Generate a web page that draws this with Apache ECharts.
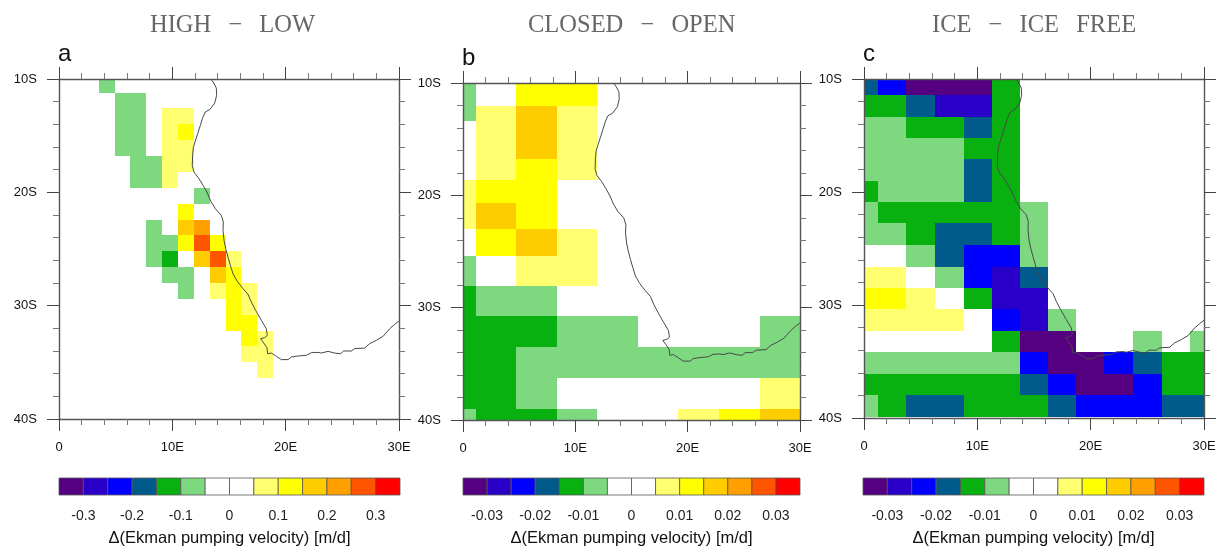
<!DOCTYPE html>
<html>
<head>
<meta charset="utf-8">
<style>html,body{margin:0;padding:0;background:#fff}#c{width:1223px;height:548px}</style>
<script src="https://cdn.jsdelivr.net/npm/echarts@6/dist/echarts.min.js"></script>
</head>
<body>
<div id="c"></div>
<script>
// Colour classes shared by all three colour bars
const classColors = ['#550080','#2a00c8','#0000ff','#005a8c','#08b010','#7dd880','#ffffff','#ffffff','#ffff70','#ffff00','#ffcc00','#ffa000','#ff5500','#ff0000'];
const classEdgesA = [-0.3,-0.25,-0.2,-0.15,-0.1,-0.05,0,0.05,0.1,0.15,0.2,0.25,0.3];
const classEdgesB = [-0.03,-0.025,-0.02,-0.015,-0.01,-0.005,0,0.005,0.01,0.015,0.02,0.025,0.03];
const barTicksA = ['', '-0.3','', '-0.2','', '-0.1','', '0','', '0.1','', '0.2','', '0.3',''];
const barTicksB = ['', '-0.03','', '-0.02','', '-0.01','', '0','', '0.01','', '0.02','', '0.03',''];
const barTitle = '\u0394(Ekman pumping velocity) [m/d]';
const gap = '\u00a0\u00a0\u2009';
const panelTitles = ['HIGH' + gap + '\u2212' + gap + 'LOW', 'CLOSED' + gap + '\u2212' + gap + 'OPEN', 'ICE' + gap + '\u2212' + gap + 'ICE' + gap + 'FREE'];
const panelLetters = ['a', 'b', 'c'];

// Panel a: cell edges (deg E, deg S) and class values (m/d)
const lonEdgesA = [3.5,4.9,6.3,7.7,9.1,10.5,11.9,13.3,14.7,16.1,17.5,18.9];
const latEdgesA = [10,11.2,12.6,14,15.4,16.8,18.2,19.6,21,22.4,23.8,25.2,26.6,28,29.4,30.8,32.2,33.6,35,36.4];
const valuesA = [
 [-.075,0,0,0,0,0,0,0,0,0,0],
 [0,-.075,-.075,0,0,0,0,0,0,0,0],
 [0,-.075,-.075,0,.075,.075,0,0,0,0,0],
 [0,-.075,-.075,0,.075,.125,0,0,0,0,0],
 [0,-.075,-.075,0,.075,.075,0,0,0,0,0],
 [0,0,-.075,-.075,.075,.075,0,0,0,0,0],
 [0,0,-.075,-.075,.075,0,0,0,0,0,0],
 [0,0,0,0,0,0,-.075,0,0,0,0],
 [0,0,0,0,0,.125,0,0,0,0,0],
 [0,0,0,-.075,0,.175,.225,0,0,0,0],
 [0,0,0,-.075,-.075,.125,.275,.125,0,0,0],
 [0,0,0,-.075,-.125,0,.175,.275,.075,0,0],
 [0,0,0,0,-.075,-.075,0,.175,.125,0,0],
 [0,0,0,0,0,-.075,0,.075,.125,.075,0],
 [0,0,0,0,0,0,0,0,.125,.075,0],
 [0,0,0,0,0,0,0,0,.125,.125,0],
 [0,0,0,0,0,0,0,0,0,.125,.075],
 [0,0,0,0,0,0,0,0,0,.075,.075],
 [0,0,0,0,0,0,0,0,0,0,.075]
];

// Panel b
const lonEdgesB = [0,1.13,4.72,8.36,11.95,15.55,19.14,22.8,26.4,30];
const latEdgesB = [10,12.05,13.38,16.74,18.64,20.68,23,25.43,28.04,30.71,33.47,36.23,39.02,40];
const valuesB = [
 [-.0075,0,.0125,.0125,0,0,0,0,0],
 [-.0075,.0075,.0175,.0075,0,0,0,0,0],
 [0,.0075,.0175,.0075,0,0,0,0,0],
 [0,.0075,.0125,.0075,0,0,0,0,0],
 [.0075,.0125,.0125,0,0,0,0,0,0],
 [.0075,.0175,.0125,0,0,0,0,0,0],
 [0,.0125,.0175,.0075,0,0,0,0,0],
 [-.0075,0,.0075,.0075,0,0,0,0,0],
 [-.0125,-.0075,-.0075,0,0,0,0,0,0],
 [-.0125,-.0125,-.0125,-.0075,-.0075,0,0,0,-.0075],
 [-.0125,-.0125,-.0075,-.0075,-.0075,-.0075,-.0075,-.0075,-.0075],
 [-.0125,-.0125,-.0075,0,0,0,0,0,.0075],
 [-.0075,-.0125,-.0125,-.0075,0,0,.0075,.0125,.0175]
];

// Panel c
const lonEdgesC = [0,1.26,3.73,6.23,8.79,11.28,13.78,16.25,18.72,21.22,23.77,26.27,28.77,30];
const latEdgesC = [10,11.38,13.36,15.21,17.09,19.01,20.89,22.75,24.69,26.6,28.52,30.37,32.28,34.2,36.08,37.94,39.94];
const valuesC = [
 [-.0175,-.0225,-.0325,-.0325,-.0325,-.0125,0,0,0,0,0,0,0],
 [-.0125,-.0125,-.0175,-.0275,-.0275,-.0125,0,0,0,0,0,0,0],
 [-.0075,-.0075,-.0125,-.0125,-.0175,-.0125,0,0,0,0,0,0,0],
 [-.0075,-.0075,-.0075,-.0075,-.0125,-.0125,0,0,0,0,0,0,0],
 [-.0075,-.0075,-.0075,-.0075,-.0175,-.0125,0,0,0,0,0,0,0],
 [-.0125,-.0075,-.0075,-.0075,-.0175,-.0125,0,0,0,0,0,0,0],
 [-.0075,-.0125,-.0125,-.0125,-.0125,-.0125,-.0075,0,0,0,0,0,0],
 [-.0075,-.0075,-.0125,-.0175,-.0175,-.0125,-.0075,0,0,0,0,0,0],
 [0,0,-.0075,-.0175,-.0225,-.0225,-.0075,0,0,0,0,0,0],
 [.0075,.0075,0,-.0075,-.0225,-.0275,-.0175,0,0,0,0,0,0],
 [.0125,.0125,.0075,0,-.0125,-.0275,-.0275,0,0,0,0,0,0],
 [.0075,.0075,.0075,.0075,0,-.0225,-.0275,-.0075,0,0,0,0,0],
 [0,0,0,0,0,-.0125,-.0325,-.0325,0,0,-.0075,0,-.0075],
 [-.0075,-.0075,-.0075,-.0075,-.0075,-.0075,-.0225,-.0325,-.0325,-.0225,-.0175,-.0125,-.0125],
 [-.0125,-.0125,-.0125,-.0125,-.0125,-.0125,-.0175,-.0225,-.0325,-.0325,-.0225,-.0125,-.0125],
 [-.0075,-.0125,-.0175,-.0175,-.0125,-.0125,-.0125,-.0175,-.0225,-.0225,-.0225,-.0175,-.0175]
];

// Coastline (deg E, deg S)
const coast = [[13.41,10],[13.65,10.35],[13.88,10.79],[13.91,11.44],[13.74,12.12],[13.32,12.68],[12.91,12.91],[12.68,13.41],[12.47,14.09],[12.24,14.82],[12,15.56],[11.85,16.06],[11.79,16.74],[11.76,17.62],[11.91,18.21],[12.35,18.79],[12.71,19.38],[13.09,20.06],[13.38,20.76],[13.79,21.44],[14.32,22.03],[14.5,22.62],[14.47,23.35],[14.56,24.24],[14.71,24.97],[14.91,25.71],[15.12,26.44],[15.35,27.18],[15.71,27.82],[16.24,28.5],[16.68,29],[16.97,29.68],[17.35,30.41],[17.85,31.29],[18.29,32.03],[18.38,32.62],[18.15,32.82],[17.79,32.91],[18.06,33.29],[18.35,33.71],[18.41,34.24],[18.74,34.18],[19.18,34.47],[19.62,34.76],[20.21,34.76],[20.5,34.53],[21.09,34.44],[21.82,34.38],[22.26,34.15],[22.85,34.12],[23.15,34.18],[23.74,34.03],[24.32,34.18],[24.85,34.24],[25.12,34],[25.79,34],[26.09,33.79],[26.97,33.74],[27.41,33.35],[28,33.06],[28.59,32.71],[29.18,32.03],[29.62,31.65],[30,31.35]];

const panels = [
 {lon: lonEdgesA, lat: latEdgesA, vals: valuesA, edges: classEdgesA, ticks: barTicksA, left: 59, width: 340, top: 79, height: 340, barLeft: 59, barWidth: 341, titleX: 150, letterX: 58, letterTop: 42},
 {lon: lonEdgesB, lat: latEdgesB, vals: valuesB, edges: classEdgesB, ticks: barTicksB, left: 463, width: 337, top: 83, height: 337, barLeft: 463, barWidth: 337, titleX: 528, letterX: 462, letterTop: 46},
 {lon: lonEdgesC, lat: latEdgesC, vals: valuesC, edges: classEdgesB, ticks: barTicksB, left: 864, width: 340, top: 79, height: 339, barLeft: 863, barWidth: 341, titleX: 932, letterX: 863, letterTop: 42}
];

const labelFont = {color: '#111', fontFamily: 'Liberation Sans', fontSize: 13};

function colorOf(v, edges) {
  let i = edges.findIndex(e => v < e);
  return classColors[i < 0 ? edges.length : i];
}

const option = {
  animation: false, backgroundColor: '#fff',
  title: [], grid: [], xAxis: [], yAxis: [], series: []
};

panels.forEach((p, n) => {
  const g = n * 2, xi = n * 3;
  option.title.push({
    text: panelTitles[n], left: p.titleX, top: 13, padding: 0,
    textStyle: {fontFamily: 'Liberation Serif', fontWeight: 'normal', fontSize: 24.5, color: '#666'}
  });
  option.title.push({
    text: panelLetters[n], left: p.letterX, top: p.letterTop, padding: 0,
    textStyle: {fontFamily: 'Liberation Sans', fontWeight: 'normal', fontSize: 24, color: '#111'}
  });
  option.grid.push({left: p.left, top: p.top, width: p.width, height: p.height});
  option.grid.push({left: p.barLeft, top: 478, width: p.barWidth, height: 24});

  const tickCfg = {show: true, length: 12, lineStyle: {color: '#444', width: 1}};
  const minor = {show: true, splitNumber: 5, length: 6, lineStyle: {color: '#777', width: 1}};
  const axisLine = {show: true, onZero: false, lineStyle: {color: '#555', width: 1.4}};
  const base = {type: 'value', min: 0, max: 30, interval: 10, splitLine: {show: false}, axisLine, axisTick: tickCfg, minorTick: minor, z: 6};
  const baseY = {type: 'value', min: 10, max: 40, interval: 10, inverse: true, splitLine: {show: false}, axisLine, axisTick: tickCfg, minorTick: minor, z: 6};

  option.xAxis.push(Object.assign({}, base, {gridIndex: g, position: 'bottom',
    axisLabel: Object.assign({}, labelFont, {margin: 22, formatter: v => v === 0 ? '0' : v + 'E'})}));
  option.xAxis.push(Object.assign({}, base, {gridIndex: g, position: 'top', axisLabel: {show: false}}));
  option.xAxis.push({type: 'value', gridIndex: g + 1, min: 0, max: 14, interval: 1, splitLine: {show: false},
    axisLine: {show: false}, axisTick: {show: false}, name: barTitle, nameLocation: 'middle', nameGap: 35,
    nameTextStyle: {fontFamily: 'Liberation Sans', fontSize: 16.5, color: '#111'},
    axisLabel: Object.assign({}, labelFont, {fontSize: 14, margin: 14, color: '#222', formatter: v => p.ticks[Math.round(v)]})});

  option.yAxis.push(Object.assign({}, baseY, {gridIndex: g, position: 'left',
    axisLabel: Object.assign({}, labelFont, {margin: 22, formatter: v => v + 'S'})}));
  option.yAxis.push(Object.assign({}, baseY, {gridIndex: g, position: 'right', axisLabel: {show: false}}));
  option.yAxis.push({type: 'value', gridIndex: g + 1, min: 0, max: 1, show: false});

  const cells = [];
  p.vals.forEach((row, j) => row.forEach((v, i) => {
    if (v !== 0) cells.push([p.lon[i], p.lon[i + 1], p.lat[j], p.lat[j + 1], v]);
  }));
  option.series.push({
    type: 'custom', xAxisIndex: xi, yAxisIndex: xi, data: cells, silent: true, z: 2,
    encode: {x: [0, 1], y: [2, 3]},
    renderItem(params, api) {
      const a = api.coord([api.value(0), api.value(2)]).map(Math.round);
      const b = api.coord([api.value(1), api.value(3)]).map(Math.round);
      return {type: 'rect', shape: {x: a[0], y: a[1], width: b[0] - a[0], height: b[1] - a[1]},
        style: {fill: colorOf(api.value(4), p.edges)}};
    }
  });
  option.series.push({
    type: 'line', xAxisIndex: xi, yAxisIndex: xi, data: coast, showSymbol: false, silent: true, z: 3,
    lineStyle: {color: '#484848', width: 1}, clip: true
  });
  const boxes = classColors.map((c, i) => [i, i + 1, 0, 1, i]);
  option.series.push({
    type: 'custom', xAxisIndex: xi + 2, yAxisIndex: xi + 2, data: boxes, silent: true,
    encode: {x: [0, 1], y: [2, 3]},
    renderItem(params, api) {
      const a = api.coord([api.value(0), api.value(2)]);
      const b = api.coord([api.value(1), api.value(3)]);
      return {type: 'rect', shape: {x: a[0], y: b[1], width: b[0] - a[0], height: a[1] - b[1]},
        style: {fill: classColors[api.value(4)], stroke: '#555', lineWidth: 0.8}};
    }
  });
});

echarts.init(document.getElementById('c'), null, {renderer: 'canvas'}).setOption(option);
</script>
</body>
</html>
